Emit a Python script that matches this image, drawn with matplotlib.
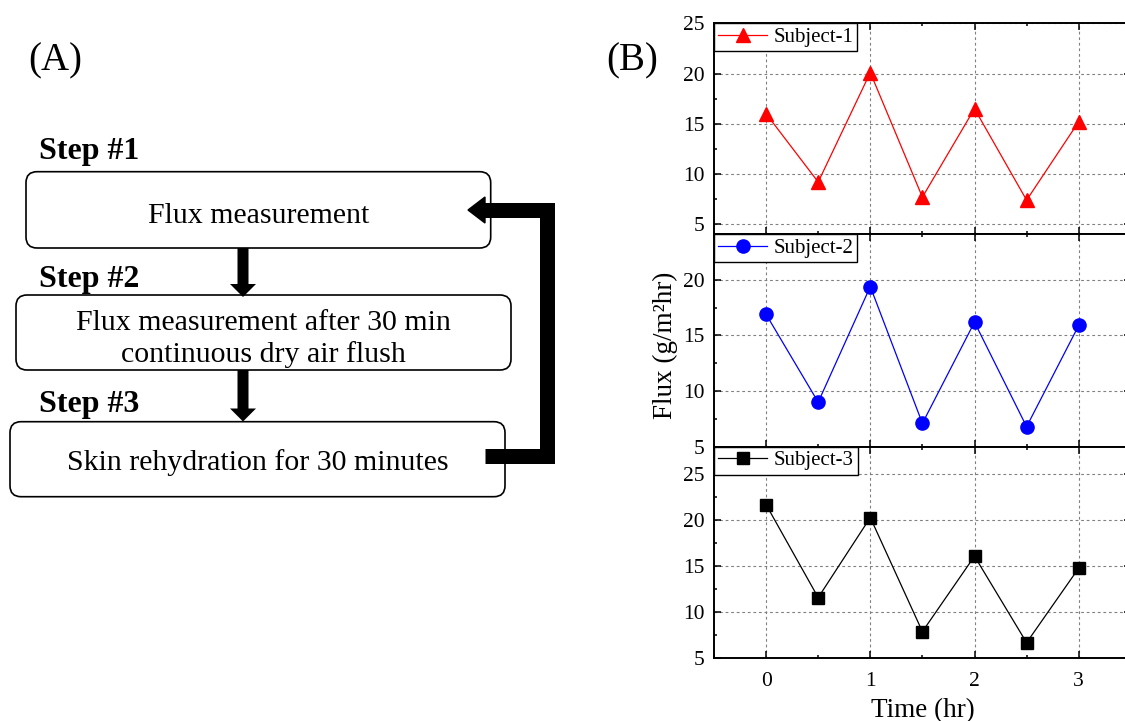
import matplotlib
matplotlib.use('Agg')
import matplotlib.pyplot as plt
from matplotlib.patches import FancyBboxPatch, FancyArrow, Polygon
from matplotlib.ticker import MultipleLocator

plt.rcParams['font.family'] = ['Liberation Serif', 'DejaVu Serif']

# data
time_hr = [0, 0.5, 1, 1.5, 2, 2.5, 3]
subject1 = [16.0, 9.2, 20.1, 7.7, 16.5, 7.4, 15.2]
subject2 = [16.9, 9.0, 19.4, 7.1, 16.2, 6.8, 15.9]
subject3 = [21.7, 11.6, 20.3, 7.9, 16.1, 6.7, 14.8]
labels = ['Subject-1', 'Subject-2', 'Subject-3']
colors = ['#ff0000', '#0000ff', '#000000']
markers = ['^', 'o', 's']
msizes = [10.5, 9.5, 9]
ylims = [(4.0, 25), (5, 24.1), (5, 28)]

step_titles = ['Step #1', 'Step #2', 'Step #3']
step_texts = [['Flux measurement'],
              ['Flux measurement after 30 min', 'continuous dry air flush'],
              ['Skin rehydration for 30 minutes']]

W, H = 1125, 721
fig = plt.figure(figsize=(W / 100, H / 100), dpi=100)

# ---- panel (A): flow chart, drawn in pixel coordinates
bg = fig.add_axes([0, 0, 1, 1])
bg.set_xlim(0, W)
bg.set_ylim(H, 0)
bg.axis('off')

bg.text(28, 70, '(A)', fontsize=28, ha='left', va='baseline')
bg.text(606, 70, '(B)', fontsize=28, ha='left', va='baseline')

boxes = [(26, 171.7, 490.7, 248), (16, 295, 511, 370), (10, 421.7, 505, 496.7)]
step_y = [158.5, 286.7, 411.7]
text_y = [[223], [330, 361.7], [470]]
for i in range(3):
    x0, y0, x1, y1 = boxes[i]
    bg.add_patch(FancyBboxPatch((x0, y0), x1 - x0, y1 - y0,
                                boxstyle='round,pad=0,rounding_size=11',
                                facecolor='white', edgecolor='black', linewidth=1.2))
    bg.text(39, step_y[i], step_titles[i], fontsize=23, fontweight='bold',
            ha='left', va='baseline')
    for line, ty in zip(step_texts[i], text_y[i]):
        bg.text((x0 + x1) / 2, ty, line, fontsize=21.5, ha='center', va='baseline')

# down arrows between boxes
for ya, yb in [(248, 297), (370, 421.5)]:
    bg.add_patch(FancyArrow(243, ya, 0, yb - ya, width=11, head_width=26,
                            head_length=13, length_includes_head=True,
                            color='black', linewidth=0))

# return arrow from step 3 back to step 1
bg.plot([485, 547, 547, 484], [455.5, 455.5, 210, 210], color='black',
        linewidth=10.8, solid_joinstyle='miter', solid_capstyle='butt', zorder=3)
bg.add_patch(Polygon([(468, 210), (485, 197), (485, 223)], closed=True,
                     color='black', zorder=3))

# ---- panel (B): three stacked plots
left = 714 / W
width = (1130.8 - 714) / W
edges = [23.3, 234.3, 446.7, 658.3]
series = [subject1, subject2, subject3]
axes = []
for i in range(3):
    top, bot = edges[i], edges[i + 1]
    ax = fig.add_axes([left, (H - bot) / H, width, (bot - top) / H])
    ax.plot(time_hr, series[i], color=colors[i], marker=markers[i],
            markersize=msizes[i], linewidth=0.9, label=labels[i], zorder=3)
    ax.set_xlim(-0.5, 3.5)
    ax.set_ylim(*ylims[i])
    ax.xaxis.set_major_locator(MultipleLocator(1))
    ax.xaxis.set_minor_locator(MultipleLocator(0.5))
    ax.yaxis.set_major_locator(MultipleLocator(5))
    ax.yaxis.set_minor_locator(MultipleLocator(2.5))
    ax.grid(True, which='major', color='#808080', linestyle=(0, (2.5, 2.5)),
            linewidth=0.8)
    ax.tick_params(which='both', direction='in', top=True, right=True,
                   labelsize=15.5, width=1.1)
    ax.tick_params(which='major', length=5, pad=7)
    ax.tick_params(axis='x', which='major', pad=10)
    ax.tick_params(which='minor', length=2.5)
    for sp in ax.spines.values():
        sp.set_linewidth(1.4)
    if i < 2:
        ax.tick_params(labelbottom=False)
    leg = ax.legend(loc='upper left', borderaxespad=0, fancybox=False,
                    edgecolor='black', framealpha=1, fontsize=15,
                    handlelength=2.35, handletextpad=0.3, borderpad=0.2)
    leg.get_frame().set_linewidth(1.0)
    axes.append(ax)

axes[2].set_xlabel('Time (hr)', fontsize=19.5, labelpad=5)
fig.text(665 / W, (H - 345) / H, 'Flux (g/m\u00b2hr)', fontsize=19.5,
         rotation=90, ha='center', va='center')

fig.savefig('out.png', dpi=100)
